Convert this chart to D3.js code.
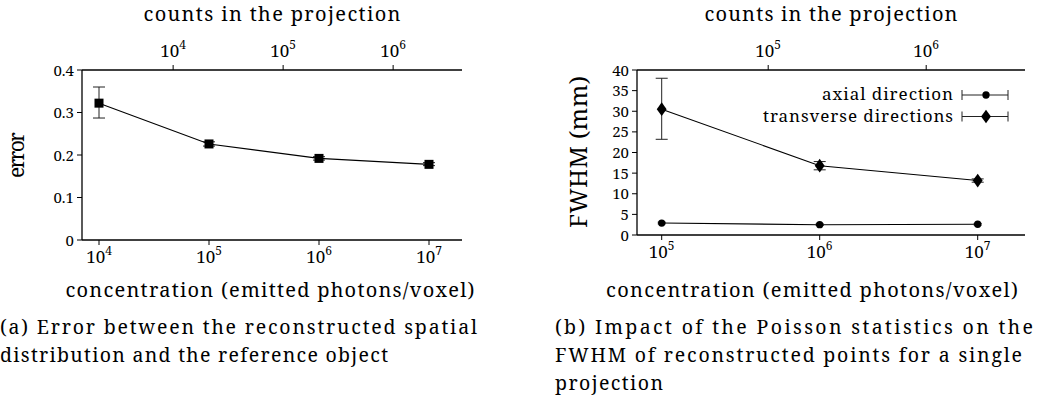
<!DOCTYPE html>
<html><head><meta charset="utf-8">
<script src="https://cdn.jsdelivr.net/npm/d3@7"></script>
<style>
html,body{margin:0;padding:0;background:#fff;}
svg{display:block;}
</style></head>
<body>
<svg id="chart" width="1040" height="406"></svg>
<script>
// ---- data ----
const concentrationA = [1e4, 1e5, 1e6, 1e7];
const errorMean = [0.322, 0.226, 0.192, 0.178];
const errorLow  = [0.287, 0.221, 0.188, 0.175];
const errorHigh = [0.360, 0.231, 0.196, 0.182];

const concentrationB = [1e5, 1e6, 1e7];
const axialMean = [2.9, 2.5, 2.6];
const axialLow  = [2.7, 2.3, 2.4];
const axialHigh = [3.1, 2.7, 2.8];
const transMean = [30.5, 16.8, 13.2];
const transLow  = [23.2, 15.8, 12.8];
const transHigh = [38.0, 17.8, 13.6];

const bottomTicksA = [1e4, 1e5, 1e6, 1e7];
const topTicksA = [1e4, 1e5, 1e6];
const yTicksA = [0, 0.1, 0.2, 0.3, 0.4];
const bottomTicksB = [1e5, 1e6, 1e7];
const topTicksB = [1e5, 1e6];
const yTicksB = [0, 5, 10, 15, 20, 25, 30, 35, 40];
const countsPerConcentration = Math.pow(10, -0.674);
const legendLabels = ["axial direction", "transverse directions"];

const svg = d3.select("#chart");
const FONT = "'Noto Serif', 'Liberation Serif', serif";
const TICK_FS = 17, SUP_FS = 12, YTICK_FS = 15;

function txt(parent){
  return parent.append("text").attr("font-family", FONT).attr("fill", "#000");
}
function fitText(sel, len){
  if(len) sel.attr("textLength", len).attr("lengthAdjust", "spacing");
  return sel;
}
function powLabel(g, v){
  const e = Math.round(Math.log10(v));
  const t = txt(g).attr("font-size", TICK_FS).attr("text-anchor","middle");
  t.append("tspan").text("10");
  t.append("tspan").attr("font-size", SUP_FS).attr("dy", -8).text(e);
  return t;
}

function panel(cfg){
  const g = svg.append("g");
  const x = d3.scaleLog().domain(cfg.xDomain).range([cfg.left, cfg.right]);
  const xt = d3.scaleLog().domain(cfg.xDomain.map(d=>d*countsPerConcentration)).range([cfg.left, cfg.right]);
  const y = d3.scaleLinear().domain(cfg.yDomain).range([cfg.bottom, cfg.top]);

  const axisG = g.append("g").attr("stroke","#000").attr("fill","none");
  axisG.append("line").attr("x1",cfg.left).attr("x2",cfg.right).attr("y1",cfg.bottom).attr("y2",cfg.bottom).attr("stroke-width",1.3);
  axisG.append("line").attr("x1",cfg.left).attr("x2",cfg.right).attr("y1",cfg.top).attr("y2",cfg.top).attr("stroke-width",1.3);
  axisG.append("line").attr("x1",cfg.left).attr("x2",cfg.left).attr("y1",cfg.top).attr("y2",cfg.bottom).attr("stroke-width",1.3);

  cfg.bottomTicks.forEach(v=>{
    const px = x(v);
    axisG.append("line").attr("x1",px).attr("x2",px).attr("y1",cfg.bottom).attr("y2",cfg.bottom+5).attr("stroke-width",1);
    powLabel(g, v).attr("transform",`translate(${px},${cfg.bottom+23})`);
  });
  cfg.topTicks.forEach(v=>{
    const px = xt(v);
    axisG.append("line").attr("x1",px).attr("x2",px).attr("y1",cfg.top).attr("y2",cfg.top-5).attr("stroke-width",1);
    powLabel(g, v).attr("transform",`translate(${px},${cfg.top-13})`);
  });
  cfg.yTicks.forEach(v=>{
    const py = y(v);
    axisG.append("line").attr("x1",cfg.left).attr("x2",cfg.left-5).attr("y1",py).attr("y2",py).attr("stroke-width",1);
    txt(g).attr("font-size",YTICK_FS).attr("text-anchor","end")
      .attr("x", cfg.left-8).attr("y", py+5.5).text(cfg.yFormat(v));
  });

  fitText(txt(g).attr("font-size",20).attr("text-anchor","middle")
    .attr("x",cfg.topTitleX).attr("y",21).text("counts in the projection"), cfg.topTitleLen);
  fitText(txt(g).attr("font-size",20).attr("text-anchor","middle")
    .attr("x",cfg.bottomTitleX).attr("y",297).text("concentration (emitted photons/voxel)"), cfg.bottomTitleLen);
  fitText(txt(g).attr("font-size",cfg.yTitleFs).attr("text-anchor","middle")
    .attr("transform",`translate(${cfg.yTitleX},${cfg.yTitleY}) rotate(-90)`).text(cfg.yTitle), cfg.yTitleLen);

  cfg.caption.forEach((c,i)=>{
    fitText(txt(g).attr("font-size",19.5).attr("x",cfg.captionX).attr("y",334+i*28).text(c.t), c.len);
  });

  return {g,x,y};
}

// ---------- Panel (a) ----------
const A = panel({
  left:82, right:462, top:70, bottom:240,
  xDomain:[Math.pow(10,4-17/110), Math.pow(10,7+33/110)],
  yDomain:[0,0.4],
  bottomTicks:bottomTicksA, topTicks:topTicksA, yTicks:yTicksA,
  yFormat:v=> v===0 ? "0" : d3.format(".1f")(v),
  topTitleX:272, topTitleLen:257,
  bottomTitleX:270, bottomTitleLen:409,
  yTitle:"error", yTitleFs:21, yTitleX:24, yTitleY:155, yTitleLen:46,
  captionX:0,
  caption:[{t:"(a) Error between the reconstructed spatial", len:477},{t:"distribution and the reference object", len:388}]
});

function errorBars(P, xs, lo, hi, cap){
  const eb = P.g.append("g").attr("stroke","#222").attr("stroke-width",1);
  xs.forEach((v,i)=>{
    const px = P.x(v);
    eb.append("line").attr("x1",px).attr("x2",px).attr("y1",P.y(lo[i])).attr("y2",P.y(hi[i]));
    eb.append("line").attr("x1",px-cap).attr("x2",px+cap).attr("y1",P.y(lo[i])).attr("y2",P.y(lo[i]));
    eb.append("line").attr("x1",px-cap).attr("x2",px+cap).attr("y1",P.y(hi[i])).attr("y2",P.y(hi[i]));
  });
}
function seriesLine(P, xs, ys){
  const line = d3.line().x((d,i)=>P.x(xs[i])).y(d=>P.y(d));
  P.g.append("path").attr("d", line(ys)).attr("fill","none").attr("stroke","#000").attr("stroke-width",1.1);
}

errorBars(A, concentrationA, errorLow, errorHigh, 6);
seriesLine(A, concentrationA, errorMean);
A.g.selectAll("rect.mk").data(errorMean).enter().append("rect")
  .attr("x",(d,i)=>A.x(concentrationA[i])-4.5).attr("y",d=>A.y(d)-4.5)
  .attr("width",9).attr("height",9).attr("fill","#000");

// ---------- Panel (b) ----------
const B = panel({
  left:637, right:1025, top:70, bottom:235,
  xDomain:[Math.pow(10,5-24.7/158), Math.pow(10,7+47.3/158)],
  yDomain:[0,40],
  bottomTicks:bottomTicksB, topTicks:topTicksB, yTicks:yTicksB,
  yFormat:v=>String(v),
  topTitleX:831, topTitleLen:253,
  bottomTitleX:812, bottomTitleLen:412,
  yTitle:"FWHM (mm)", yTitleFs:24, yTitleX:587, yTitleY:152, yTitleLen:152,
  captionX:555,
  caption:[{t:"(b) Impact of the Poisson statistics on the", len:478},{t:"FWHM of reconstructed points for a single", len:467},{t:"projection", len:108}]
});

const diamond = d3.symbol().type(d3.symbolDiamond).size(54);
const circle = d3.symbol().type(d3.symbolCircle).size(42);

errorBars(B, concentrationB, transLow, transHigh, 6);
errorBars(B, concentrationB, axialLow, axialHigh, 4);
seriesLine(B, concentrationB, transMean);
seriesLine(B, concentrationB, axialMean);
B.g.selectAll("path.dm").data(transMean).enter().append("path")
  .attr("d", diamond).attr("transform",(d,i)=>`translate(${B.x(concentrationB[i])},${B.y(d)}) scale(1.25,1)`).attr("fill","#000");
B.g.selectAll("path.cc").data(axialMean).enter().append("path")
  .attr("d", circle).attr("transform",(d,i)=>`translate(${B.x(concentrationB[i])},${B.y(d)})`).attr("fill","#000");

// legend
const leg = B.g.append("g");
const legendLens = [131, 190];
[circle, diamond].forEach((sym,i)=>{
  const ly = 95 + i*21.5;
  fitText(txt(leg).attr("font-size",TICK_FS).attr("text-anchor","end").attr("x",953).attr("y",ly+5).text(legendLabels[i]), legendLens[i]);
  const lg = leg.append("g").attr("stroke","#222").attr("stroke-width",1);
  lg.append("line").attr("x1",962).attr("x2",1008).attr("y1",ly).attr("y2",ly);
  lg.append("line").attr("x1",962).attr("x2",962).attr("y1",ly-5).attr("y2",ly+5);
  lg.append("line").attr("x1",1008).attr("x2",1008).attr("y1",ly-5).attr("y2",ly+5);
  leg.append("path").attr("d",sym).attr("fill","#000")
    .attr("transform",`translate(986,${ly})` + (i===1?" scale(1.25,1)":""));
});
</script>
</body></html>
